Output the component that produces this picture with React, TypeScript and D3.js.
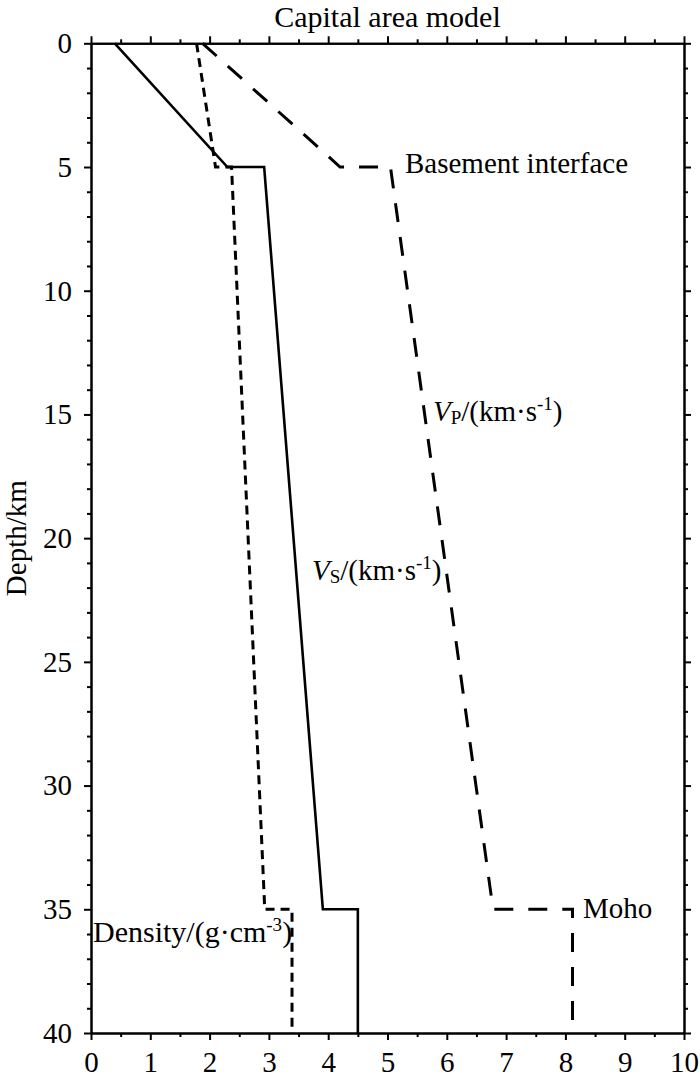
import { useEffect, useRef } from "react";
import * as d3 from "d3";

// depth (km), value
const vsProfile: [number, number][] = [
  [0, 0.4], [5, 2.3], [5, 2.92], [35, 3.91], [35, 4.5], [40, 4.5],
];
const vpProfile: [number, number][] = [
  [0, 1.88], [5, 4.2], [5, 5.05], [35, 6.78], [35, 8.12], [40, 8.12],
];
const densityProfile: [number, number][] = [
  [0, 1.78], [5, 2.1], [5, 2.37], [35, 2.93], [35, 3.39], [40, 3.39],
];

const xTicks = [0, 1, 2, 3, 4, 5, 6, 7, 8, 9, 10];
const yTicks = [0, 5, 10, 15, 20, 25, 30, 35, 40];

const W = 700;
const H = 1082;
const FONT = "'Liberation Serif', 'Times New Roman', serif";
const FS = 29;

export default function App() {
  const ref = useRef<SVGSVGElement>(null);

  useEffect(() => {
    const svg = d3.select(ref.current);
    svg.selectAll("*").remove();

    const x = d3.scaleLinear().domain([0, 10]).range([91, 684]);
    const y = d3.scaleLinear().domain([0, 40]).range([43.3, 1033]);

    const line = d3
      .line<[number, number]>()
      .x((d) => x(d[1]))
      .y((d) => y(d[0]));

    // profiles
    svg
      .append("path")
      .attr("d", line(vsProfile))
      .attr("fill", "none")
      .attr("stroke", "#000")
      .attr("stroke-width", 2.6);

    svg
      .append("path")
      .attr("d", line(vpProfile))
      .attr("fill", "none")
      .attr("stroke", "#000")
      .attr("stroke-width", 3)
      .attr("stroke-dasharray", "19,15");

    svg
      .append("path")
      .attr("d", line(densityProfile))
      .attr("fill", "none")
      .attr("stroke", "#000")
      .attr("stroke-width", 3)
      .attr("stroke-dasharray", "9,6");

    // axes (ticks outward on all sides)
    const xMinor = d3.range(0, 10.01, 0.5).filter((v) => v % 1 !== 0);
    const yMinor = d3.range(0, 40.01, 1).filter((v) => v % 5 !== 0);

    const styleAxis = (g: any) => {
      g.select(".domain").attr("stroke-width", 2);
      g.selectAll(".tick line").attr("stroke-width", 2);
      g.selectAll("text")
        .attr("font-family", FONT)
        .attr("font-size", FS)
        .attr("fill", "#000");
    };

    svg
      .append("g")
      .attr("transform", `translate(0,${y(40)})`)
      .call(d3.axisBottom(x).tickValues(xTicks).tickSize(7).tickPadding(11).tickSizeOuter(0))
      .call(styleAxis);
    svg
      .append("g")
      .attr("transform", `translate(0,${y(40)})`)
      .call(d3.axisBottom(x).tickValues(xMinor).tickSize(4).tickFormat(() => "").tickSizeOuter(0))
      .call(styleAxis);

    svg
      .append("g")
      .attr("transform", `translate(0,${y(0)})`)
      .call(d3.axisTop(x).tickValues(xTicks).tickSize(7).tickFormat(() => "").tickSizeOuter(0))
      .call(styleAxis);
    svg
      .append("g")
      .attr("transform", `translate(0,${y(0)})`)
      .call(d3.axisTop(x).tickValues(xMinor).tickSize(4).tickFormat(() => "").tickSizeOuter(0))
      .call(styleAxis);

    svg
      .append("g")
      .attr("transform", `translate(${x(0)},0)`)
      .call(d3.axisLeft(y).tickValues(yTicks).tickSize(7).tickPadding(12).tickSizeOuter(0))
      .call(styleAxis);
    svg
      .append("g")
      .attr("transform", `translate(${x(0)},0)`)
      .call(d3.axisLeft(y).tickValues(yMinor).tickSize(4).tickFormat(() => "").tickSizeOuter(0))
      .call(styleAxis);

    svg
      .append("g")
      .attr("transform", `translate(${x(10)},0)`)
      .call(d3.axisRight(y).tickValues(yTicks).tickSize(7).tickFormat(() => "").tickSizeOuter(0))
      .call(styleAxis);
    svg
      .append("g")
      .attr("transform", `translate(${x(10)},0)`)
      .call(d3.axisRight(y).tickValues(yMinor).tickSize(4).tickFormat(() => "").tickSizeOuter(0))
      .call(styleAxis);

    // title + axis label
    svg
      .append("text")
      .attr("x", (x(0) + x(10)) / 2)
      .attr("y", 27)
      .attr("text-anchor", "middle")
      .attr("font-family", FONT)
      .attr("font-size", 30)
      .text("Capital area model");

    svg
      .append("text")
      .attr("transform", `translate(26,${(y(0) + y(40)) / 2}) rotate(-90)`)
      .attr("text-anchor", "middle")
      .attr("font-family", FONT)
      .attr("font-size", FS)
      .text("Depth/km");

    // annotations
    const note = (px: number, py: number, fs = FS) =>
      svg
        .append("text")
        .attr("x", px)
        .attr("y", py)
        .attr("font-family", FONT)
        .attr("font-size", fs);

    note(405, 173).text("Basement interface");
    note(583, 918).text("Moho");

    const velLabel = (px: number, py: number, sub: string) => {
      const t = note(px, py);
      t.append("tspan").attr("font-style", "italic").text("V");
      t.append("tspan").attr("font-size", 19).attr("dy", 3).text(sub);
      t.append("tspan").attr("dy", -3).text("/(km·s");
      t.append("tspan").attr("font-size", 19).attr("dy", -11).text("-1");
      t.append("tspan").attr("dy", 11).text(")");
    };
    velLabel(433, 421, "P");
    velLabel(312, 580, "S");

    const dens = note(93, 942, 30);
    dens.append("tspan").text("Density/(g·cm");
    dens.append("tspan").attr("font-size", 19).attr("dy", -11).text("-3");
    dens.append("tspan").attr("dy", 11).text(")");
  }, []);

  return (
    <svg
      ref={ref}
      width={W}
      height={H}
      style={{ position: "absolute", left: 0, top: 0, background: "#fff" }}
    />
  );
}
